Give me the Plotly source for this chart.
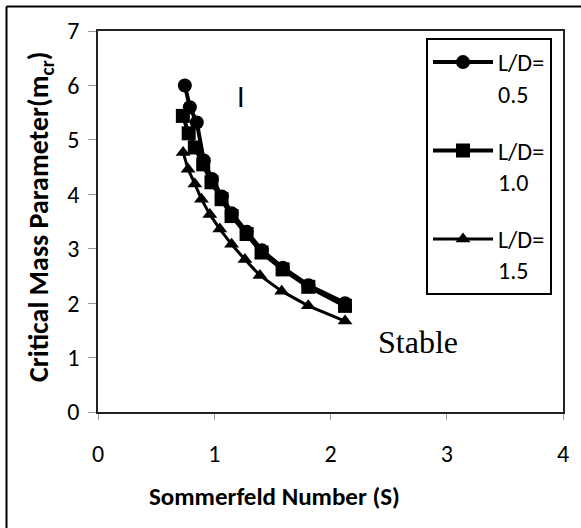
import plotly.graph_objects as go

# Data
s_05 = [0.747, 0.79, 0.85, 0.91, 0.98, 1.065, 1.15, 1.28, 1.41, 1.59, 1.81, 2.125]
m_05 = [6.00, 5.60, 5.32, 4.62, 4.28, 3.96, 3.65, 3.31, 2.97, 2.65, 2.33, 2.00]

s_10 = [0.73, 0.78, 0.833, 0.905, 0.976, 1.063, 1.149, 1.278, 1.407, 1.588, 1.809, 2.125]
m_10 = [5.44, 5.12, 4.86, 4.55, 4.22, 3.91, 3.60, 3.27, 2.93, 2.62, 2.30, 1.95]

s_15 = [0.732, 0.775, 0.833, 0.89, 0.962, 1.048, 1.149, 1.264, 1.393, 1.58, 1.809, 2.125]
m_15 = [4.77, 4.46, 4.19, 3.91, 3.63, 3.36, 3.08, 2.80, 2.51, 2.22, 1.95, 1.67]

names = ["L/D=<br>0.5", "L/D=<br>1.0", "L/D=<br>1.5"]
symbols = ["circle", "square", "triangle-up"]

x_title = "Sommerfeld Number (S)"
y_title = "Critical Mass Parameter(m<sub>cr</sub>)"

FONT = "Carlito, Lato, 'Liberation Sans', sans-serif"

fig = go.Figure()
for i, (xs, ys) in enumerate([(s_05, m_05), (s_10, m_10), (s_15, m_15)]):
    fig.add_trace(go.Scatter(
        x=xs, y=ys, mode="lines+markers", name=names[i],
        legendgroup=f"g{i}",
        line=dict(color="black", width=4 if i < 2 else 3),
        marker=dict(symbol=symbols[i], size=14 if i < 2 else 13, color="black"),
    ))

W, H = 581, 528
L, R, T, B = 98, 18, 31, 116
pw, ph = W - L - R, H - T - B

def px2paper(x, y):
    return (x - L) / pw, (H - B - y) / ph

x0, y0 = px2paper(6.5, 6.5)
x1, _ = px2paper(W + 5, 0)
_, y1 = px2paper(0, H + 5)
xt_x, xt_y = px2paper(274, 497)
yt_x, yt_y = px2paper(40, 217)

fig.update_layout(
    width=W, height=H,
    margin=dict(l=L, r=R, t=T, b=B),
    paper_bgcolor="white", plot_bgcolor="white",
    font=dict(family=FONT, color="black", size=24),
    showlegend=True,
    legend=dict(
        x=(426 - L) / pw, y=(H - B - 38) / ph, xanchor="left", yanchor="top",
        bordercolor="black", borderwidth=2, bgcolor="white",
        font=dict(size=24, family=FONT), valign="top",
        tracegroupgap=23, itemwidth=60,
    ),
    xaxis=dict(
        range=[0, 4], dtick=1, tick0=0, showgrid=False, zeroline=False,
        showline=True, linecolor="#222", linewidth=1.5, mirror=True,
        ticks="outside", ticklen=6, tickcolor="#999", tickwidth=1,
        tickfont=dict(size=24), ticklabelstandoff=13,
    ),
    yaxis=dict(
        range=[0, 7], dtick=1, tick0=0, showgrid=False, zeroline=False,
        showline=True, linecolor="#222", linewidth=1.5, mirror=True,
        ticks="outside", ticklen=8, tickcolor="#999", tickwidth=1,
        tickfont=dict(size=24), ticklabelstandoff=4,
    ),
    shapes=[
        dict(type="line", xref="paper", yref="paper", x0=x0, y0=y0, x1=x1, y1=y0,
             line=dict(color="black", width=2)),
        dict(type="line", xref="paper", yref="paper", x0=x0, y0=y0, x1=x0, y1=y1,
             line=dict(color="black", width=2)),
    ],
    annotations=[
        dict(x=xt_x, y=xt_y, xref="paper", yref="paper", text=f"<b>{x_title}</b>",
             xanchor="center", yanchor="middle",
             showarrow=False, font=dict(family=FONT, size=25)),
        dict(x=yt_x, y=yt_y, xref="paper", yref="paper", text=f"<b>{y_title}</b>",
             xanchor="center", yanchor="middle",
             showarrow=False, textangle=-90, font=dict(family=FONT, size=28)),
        dict(x=1.23, y=5.79, xref="x", yref="y", text="I", showarrow=False,
             font=dict(family=FONT, size=30)),
        dict(x=2.75, y=1.28, xref="x", yref="y", text="Stable", showarrow=False,
             font=dict(family="'Liberation Serif', 'Times New Roman', serif", size=32)),
    ],
)

fig.write_html("out.html")
